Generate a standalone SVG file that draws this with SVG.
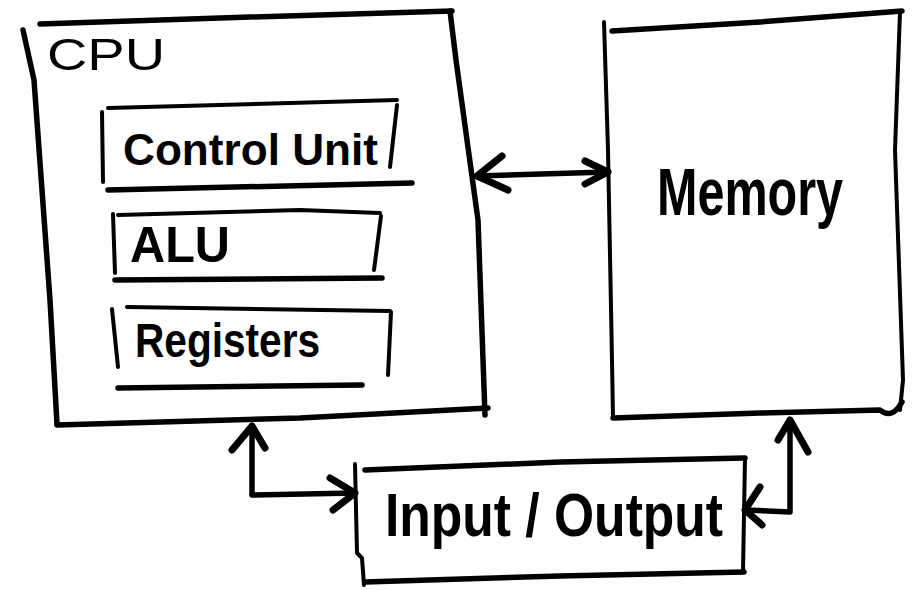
<svg xmlns="http://www.w3.org/2000/svg" width="913" height="590" viewBox="0 0 913 590">
<defs>
<style>
.ln{fill:none;stroke:#000;stroke-width:5.5;stroke-linecap:round;stroke-linejoin:round}
.thin{fill:none;stroke:#000;stroke-width:4;stroke-linecap:round;stroke-linejoin:round}
.conn{fill:none;stroke:#000;stroke-width:5.5;stroke-linecap:round;stroke-linejoin:round}
.head{fill:none;stroke:#000;stroke-width:7;stroke-linecap:round;stroke-linejoin:round}
.t{font-family:"Liberation Sans",Arial,sans-serif;font-weight:bold;fill:#000}
.tt{font-family:"Liberation Sans",Arial,sans-serif;fill:#000}
</style>
</defs>
<rect width="913" height="590" fill="#fff"/>

<g id="cpu">
<path class="ln" d="M40,24 L250,17 L452,11"/>
<path class="ln" d="M23,30 L34,80 L50,300 L57,424"/>
<path class="ln" d="M450,11 L456,60 L478,220 L485,415"/>
<path class="ln" d="M57,425 L300,418 L488,408"/>
<text class="tt" x="47" y="70" font-size="44" textLength="118" lengthAdjust="spacingAndGlyphs">CPU</text>
</g>

<g id="control-unit">
<path class="thin" d="M108,108 L397,100"/>
<path class="thin" d="M102,112 L103,182"/>
<path class="thin" d="M397,105 L390,167"/>
<path class="ln" d="M108,190 L412,183"/>
<text class="t" x="123" y="165" font-size="44" textLength="255" lengthAdjust="spacingAndGlyphs">Control Unit</text>
</g>

<g id="alu">
<path class="thin" d="M118,215 L300,210 L380,213"/>
<path class="thin" d="M113,214 L115,273"/>
<path class="thin" d="M381,216 L374,270"/>
<path class="ln" d="M115,280 L382,278"/>
<text class="t" x="130" y="262" font-size="50" textLength="100" lengthAdjust="spacingAndGlyphs">ALU</text>
</g>

<g id="registers">
<path class="thin" d="M127,307 L390,311"/>
<path class="thin" d="M112,309 L118,367"/>
<path class="thin" d="M391,312 L388,375"/>
<path class="ln" d="M118,388 L362,385"/>
<text class="t" x="135" y="357" font-size="48" textLength="185" lengthAdjust="spacingAndGlyphs">Registers</text>
</g>

<g id="memory">
<path class="ln" d="M612,31 L760,22 L902,11"/>
<path class="thin" d="M604,22 L608,150 L612,360 L613,418"/>
<path class="thin" d="M900,12 L895,150 L903,380 L900,410"/>
<path class="ln" d="M613,418 L760,413 L880,410 Q892,420 902,402"/>
<text class="t" x="657" y="215" font-size="66" textLength="186" lengthAdjust="spacingAndGlyphs">Memory</text>
</g>

<g id="io">
<path class="ln" d="M365,470 L560,462 L745,458"/>
<path class="thin" d="M355,464 L357,553 L362,558 L364,585"/>
<path class="thin" d="M745,458 L743,572"/>
<path class="ln" d="M365,582 L560,576 L744,572"/>
<text class="t" x="385" y="536" font-size="62" textLength="338" lengthAdjust="spacingAndGlyphs">Input / Output</text>
</g>

<g id="connectors">
<path class="conn" d="M477,176 L608,172"/>
<path class="head" d="M502,156 L477,176 L508,190"/>
<path class="head" d="M585,161 L608,172 L585,184"/>

<path class="conn" d="M252,426 L252,495 L355,493"/>
<path class="head" d="M232,450 L252,426 L265,448"/>
<path class="head" d="M330,478 L355,493 L333,510"/>

<path class="conn" d="M790,420 L790,512 L745,510"/>
<path class="head" d="M778,440 L790,420 L808,452"/>
<path class="head" d="M760,487 L745,510 L762,525"/>
</g>
</svg>
